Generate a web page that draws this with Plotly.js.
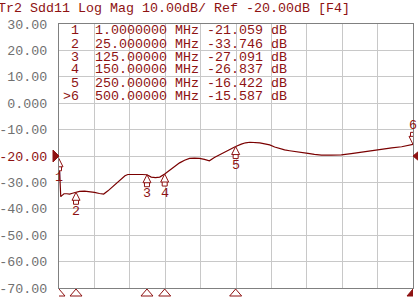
<!DOCTYPE html>
<html><head><meta charset="utf-8">
<script src="https://cdn.plot.ly/plotly-3.0.1.min.js"></script>
<style>html,body{margin:0;padding:0;background:#fff;overflow:hidden}#chart{width:418px;height:302px}</style>
</head><body><div id="chart"></div>
<script>
// ---- data ----
const freqMHz = [1, 2, 3.5, 5, 8, 12, 16, 20, 25, 30, 37, 44, 51, 58, 64, 70, 77, 83, 89, 94, 98, 105, 112, 118, 125, 131, 137, 143, 150, 157, 164, 171, 178, 185, 192, 199, 206, 213, 220, 226, 232, 240, 250, 258, 264, 270, 277, 284, 291, 298, 305, 312, 319, 326, 333, 341, 352, 361, 371, 385, 399, 413, 427, 441, 456, 470, 484, 492, 500];
const sdd11dB = [-21.06, -30.0, -35.4, -35.0, -34.3, -34.3, -34.4, -34.1, -33.75, -33.4, -33.3, -33.5, -33.8, -34.2, -34.4, -33.2, -31.6, -30.0, -28.5, -27.5, -27.0, -26.9, -26.9, -27.0, -27.09, -28.0, -28.2, -28.0, -26.84, -25.4, -24.0, -22.6, -21.6, -20.9, -20.8, -20.9, -21.3, -21.8, -20.6, -19.7, -19.0, -17.8, -16.42, -15.5, -15.0, -14.8, -14.8, -15.0, -15.4, -15.8, -16.6, -17.3, -17.7, -18.0, -18.2, -18.5, -19.0, -19.4, -19.7, -19.7, -19.6, -19.1, -18.5, -17.9, -17.3, -16.9, -16.5, -16.1, -15.59];
const markerIds = ['1', '2', '3', '4', '5', '>6'];
const markerFreqMHz = [1, 25, 125, 150, 250, 500];
const markerValdB = [-21.059, -33.746, -27.091, -26.837, -16.422, -15.587];
const activeMarker = 5;
const yTickVals = [30, 20, 10, 0, -10, -20, -30, -40, -50, -60, -70];
const yTickLabels = ['30.00', '20.00', '10.00', '0.000', '-10.00', '-20.00', '-30.00', '-40.00', '-50.00', '-60.00', '-70.00'];
const refLeveldB = -20;
const startMHz = 1, stopMHz = 500;
const titleText = 'Tr2 Sdd11 Log Mag 10.00dB/ Ref -20.00dB [F4]';

// ---- style / layout ----
const RED = '#8e1212';
const MONO = 'Liberation Mono';
const FS = 13.33;
const L = 59, R = 5, T = 24, B = 14, W = 418, H = 302;
const PW = W - L - R, PH = H - T - B;
const px = v => (v - L) / PW;          // pixel -> paper (x)
const py = v => (H - B - v) / PH;      // pixel -> paper (y)
const NB = '\u00a0';
const pad = (s, n) => NB.repeat(Math.max(0, n - s.length)) + s;

const ticktext = yTickVals.map((v, i) => v === refLeveldB ? '<span style="color:' + RED + '">' + yTickLabels[i] + '</span>' : yTickLabels[i]);

const annotations = [];
annotations.push({xref: 'paper', yref: 'paper', x: px(-4), y: py(9), xanchor: 'left', yanchor: 'middle', showarrow: false, text: titleText.replace(/ /g, NB), font: {family: MONO, size: FS, color: RED}});

// marker table: one monospace row per marker
markerIds.forEach((id, i) => {
  const row = pad(id, 2) + NB + NB + markerFreqMHz[i].toPrecision(8) + NB + 'MHz' + NB + markerValdB[i].toFixed(3) + NB + 'dB';
  annotations.push({xref: 'paper', yref: 'paper', x: px(61), y: py(31 + 13 * i), xanchor: 'left', yanchor: 'middle', showarrow: false, text: row, font: {family: MONO, size: FS, color: RED}});
});

const shapes = [];
markerIds.forEach((id, i) => {
  const active = i === activeMarker;
  annotations.push({xref: 'x', yref: 'y', x: markerFreqMHz[i], y: markerValdB[i], yshift: active ? 19 : -19, xanchor: 'center', yanchor: 'middle', showarrow: false, text: id.replace('>', ''), font: {family: MONO, size: FS, color: RED}});
  const up = 'M0,0 L-4,-8 L4,-8 Z M-2.5,-8 L-2.5,-12 L2.5,-12 L2.5,-8';
  const down = 'M0,0 L-4,8 L4,8 Z M-2.5,8 L-2.5,12 L2.5,12 L2.5,8';
  shapes.push({type: 'path', xref: 'x', yref: 'y', xsizemode: 'pixel', ysizemode: 'pixel', xanchor: markerFreqMHz[i], yanchor: markerValdB[i], path: active ? down : up, line: {color: RED, width: 1}, fillcolor: 'white', layer: 'above'});
  shapes.push({type: 'path', xref: 'x', yref: 'paper', xsizemode: 'pixel', ysizemode: 'pixel', xanchor: markerFreqMHz[i], yanchor: 0, path: 'M0,-1 L-6,-8 L6,-8 Z', line: {color: RED, width: 1}, fillcolor: active ? RED : 'white', layer: 'above'});
});
shapes.push({type: 'path', xref: 'paper', yref: 'y', xsizemode: 'pixel', ysizemode: 'pixel', xanchor: 0, yanchor: refLeveldB, path: 'M0,0 L-6,6 L-6,-6 Z', line: {color: RED, width: 1}, fillcolor: RED, layer: 'above'});
shapes.push({type: 'path', xref: 'paper', yref: 'y', xsizemode: 'pixel', ysizemode: 'pixel', xanchor: 1, yanchor: refLeveldB, path: 'M0,0 L6,5 L6,-5 Z', line: {color: RED, width: 1}, fillcolor: RED, layer: 'above'});

const trace = {x: freqMHz, y: sdd11dB, type: 'scatter', mode: 'lines', line: {color: '#7a0000', width: 1.2}, hoverinfo: 'skip'};

const layout = {
  width: W, height: H, autosize: false,
  margin: {l: L, r: R, t: T, b: B, pad: 0},
  paper_bgcolor: '#fff', plot_bgcolor: '#fff',
  showlegend: false,
  xaxis: {range: [startMHz, stopMHz], tick0: startMHz, dtick: (stopMHz - startMHz) / 10, tickmode: 'linear', showticklabels: false, ticks: '', showgrid: true, gridcolor: '#c8c8c8', gridwidth: 1, zeroline: false, showline: true, mirror: true, linecolor: '#808080', linewidth: 1, fixedrange: true},
  yaxis: {range: [-70, 30], tickmode: 'array', tickvals: yTickVals, ticktext: ticktext, ticks: 'outside', ticklen: 8, tickcolor: 'rgba(0,0,0,0)', tickfont: {family: MONO, size: FS, color: '#707070'}, showgrid: true, gridcolor: '#c8c8c8', gridwidth: 1, zeroline: false, showline: true, mirror: true, linecolor: '#808080', linewidth: 1, fixedrange: true},
  annotations: annotations,
  shapes: shapes
};
Plotly.newPlot('chart', [trace], layout, {displayModeBar: false, staticPlot: true});
</script></body></html>
